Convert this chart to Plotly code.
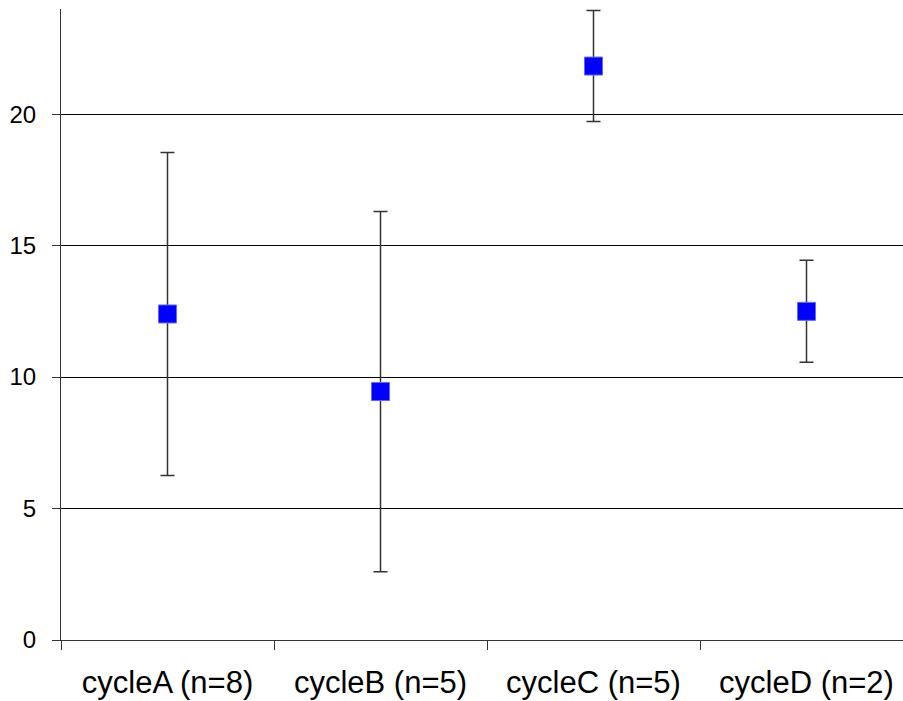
import plotly.graph_objects as go

categories = ["cycleA (n=8)", "cycleB (n=5)", "cycleC (n=5)", "cycleD (n=2)"]
means = [12.4, 9.45, 21.83, 12.5]
errors = [6.14, 6.85, 2.11, 1.94]
y_ticks = [0, 5, 10, 15, 20]

fig = go.Figure()
fig.add_trace(go.Scatter(
    x=categories, y=means, mode="markers",
    marker=dict(symbol="square", size=18, color="#0000FF",
                line=dict(color="#6666FF", width=1)),
    error_y=dict(type="data", array=errors, visible=True,
                 color="#333333", thickness=1.5, width=7),
    showlegend=False,
))

fig.update_layout(
    width=903, height=701,
    margin=dict(l=61, r=0, t=9, b=61),
    paper_bgcolor="white", plot_bgcolor="white",
    font=dict(family="Liberation Sans, Arial, sans-serif", color="black"),
    xaxis=dict(
        type="category", range=[-0.5, -0.5 + 842 / 213],
        tickson="boundaries", ticks="outside", ticklen=9, tickcolor="#333333",
        showgrid=False, showline=True, linecolor="#333333", linewidth=1,
        tickfont=dict(size=31), ticklabelstandoff=15,
    ),
    yaxis=dict(
        range=[0, 24], tickvals=y_ticks, ticks="outside", ticklen=8,
        tickcolor="#333333", showgrid=True, gridcolor="black", gridwidth=1,
        showline=True, linecolor="#333333", linewidth=1, zeroline=False,
        tickfont=dict(size=24), ticklabelstandoff=11,
    ),
)

fig.write_html("out.html")
